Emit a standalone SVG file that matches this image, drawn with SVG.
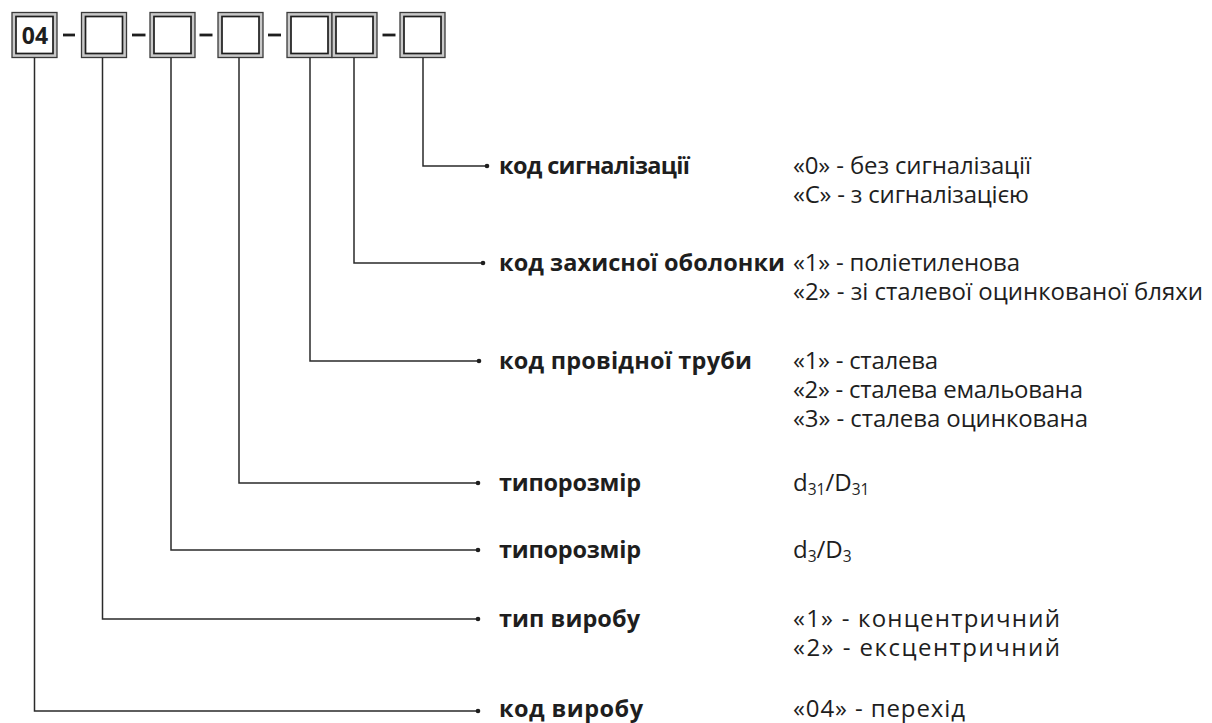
<svg xmlns="http://www.w3.org/2000/svg" width="1212" height="723" viewBox="0 0 1212 723">
<defs>
<style>
.ob{fill:#c9c9c9;stroke:#3a3a3a;stroke-width:1.3}
.ib{fill:#fff;stroke:#1e1e1e;stroke-width:1.7}
.dash{stroke:#1e1e1e;stroke-width:2.8}
.con{fill:none;stroke:#2a2a2a;stroke-width:1.5}
.dot{fill:#1e1e1e}
.lb{font-family:"Open Sans","Noto Sans",sans-serif;font-weight:bold;font-size:23.5px;fill:#1e1e1e}
.tx{font-family:"Open Sans","Noto Sans",sans-serif;font-size:24px;fill:#1e1e1e}
.sub{font-size:15.5px}
.code{font-family:"Open Sans","Noto Sans",sans-serif;font-weight:bold;font-size:23px;fill:#1e1e1e}
</style>
</defs>
<rect width="1212" height="723" fill="#fff"/>
<g id="code-boxes">
<g id="box1"><rect class="ob" x="12" y="12.5" width="45" height="45"/><rect class="ib" x="16" y="16.5" width="37" height="37"/><text class="code" x="35" y="43.5" text-anchor="middle">04</text></g>
<g id="box2"><rect class="ob" x="81.5" y="12.5" width="45" height="45"/><rect class="ib" x="85.5" y="16.5" width="37" height="37"/></g>
<g id="box3"><rect class="ob" x="150" y="12.5" width="45" height="45"/><rect class="ib" x="154" y="16.5" width="37" height="37"/></g>
<g id="box4"><rect class="ob" x="218" y="12.5" width="45" height="45"/><rect class="ib" x="222" y="16.5" width="37" height="37"/></g>
<g id="box5"><rect class="ob" x="287" y="12.5" width="45" height="45"/><rect class="ib" x="291" y="16.5" width="37" height="37"/></g>
<g id="box6"><rect class="ob" x="332" y="12.5" width="45" height="45"/><rect class="ib" x="336" y="16.5" width="37" height="37"/></g>
<g id="box7"><rect class="ob" x="400" y="12.5" width="45" height="45"/><rect class="ib" x="404" y="16.5" width="37" height="37"/></g>
<g id="dashes">
<line class="dash" x1="63" y1="35" x2="75" y2="35"/>
<line class="dash" x1="132" y1="35" x2="145.5" y2="35"/>
<line class="dash" x1="199.5" y1="35" x2="212.5" y2="35"/>
<line class="dash" x1="268" y1="35" x2="281" y2="35"/>
<line class="dash" x1="382.5" y1="35" x2="395.5" y2="35"/>
</g>
</g>
<g id="connectors">
<polyline class="con" points="423,57.5 423,166 487,166"/>
<polyline class="con" points="354,57.5 354,263 483,263"/>
<polyline class="con" points="310,57.5 310,361 479,361"/>
<polyline class="con" points="239,57.5 239,483 478,483"/>
<polyline class="con" points="171,57.5 171,550 478,550"/>
<polyline class="con" points="102.5,57.5 102.5,619 478,619"/>
<polyline class="con" points="34.5,57.5 34.5,711 478,711"/>
<circle class="dot" cx="487" cy="166" r="2.3"/>
<circle class="dot" cx="483" cy="263" r="2.3"/>
<circle class="dot" cx="479" cy="361" r="2.3"/>
<circle class="dot" cx="478" cy="483" r="2.3"/>
<circle class="dot" cx="478" cy="550" r="2.3"/>
<circle class="dot" cx="478" cy="619" r="2.3"/>
<circle class="dot" cx="478" cy="711" r="2.3"/>
</g>
<g id="row-alarm">
<text class="lb" x="499" y="174" textLength="191" lengthAdjust="spacing">код сигналізації</text>
<text class="tx" x="793" y="174" textLength="238" lengthAdjust="spacing">«0» - без сигналізації</text>
<text class="tx" x="793" y="203" textLength="236" lengthAdjust="spacing">«С» - з сигналізацією</text>
</g>
<g id="row-shell">
<text class="lb" x="499" y="271" textLength="286" lengthAdjust="spacing">код захисної оболонки</text>
<text class="tx" x="793" y="271" textLength="227" lengthAdjust="spacing">«1» - поліетиленова</text>
<text class="tx" x="793" y="300" textLength="410" lengthAdjust="spacing">«2» - зі сталевої оцинкованої бляхи</text>
</g>
<g id="row-pipe">
<text class="lb" x="499" y="369" textLength="253" lengthAdjust="spacing">код провідної труби</text>
<text class="tx" x="793" y="369" textLength="145" lengthAdjust="spacing">«1» - сталева</text>
<text class="tx" x="793" y="398" textLength="290" lengthAdjust="spacing">«2» - сталева емальована</text>
<text class="tx" x="793" y="427" textLength="295" lengthAdjust="spacing">«3» - сталева оцинкована</text>
</g>
<g id="row-size31">
<text class="lb" x="499" y="491" textLength="142" lengthAdjust="spacing">типорозмір</text>
<text class="tx" x="793" y="491">d<tspan class="sub" dy="4">31</tspan><tspan dy="-4">/D</tspan><tspan class="sub" dy="4">31</tspan></text>
</g>
<g id="row-size3">
<text class="lb" x="499" y="558" textLength="142" lengthAdjust="spacing">типорозмір</text>
<text class="tx" x="793" y="558">d<tspan class="sub" dy="4">3</tspan><tspan dy="-4">/D</tspan><tspan class="sub" dy="4">3</tspan></text>
</g>
<g id="row-type">
<text class="lb" x="499" y="627" textLength="141" lengthAdjust="spacing">тип виробу</text>
<text class="tx" x="793" y="627" textLength="267" lengthAdjust="spacing">«1» - концентричний</text>
<text class="tx" x="793" y="656" textLength="267" lengthAdjust="spacing">«2» - ексцентричний</text>
</g>
<g id="row-product">
<text class="lb" x="499" y="717" textLength="144" lengthAdjust="spacing">код виробу</text>
<text class="tx" x="793" y="717" textLength="172" lengthAdjust="spacing">«04» - перехід</text>
</g>
</svg>
